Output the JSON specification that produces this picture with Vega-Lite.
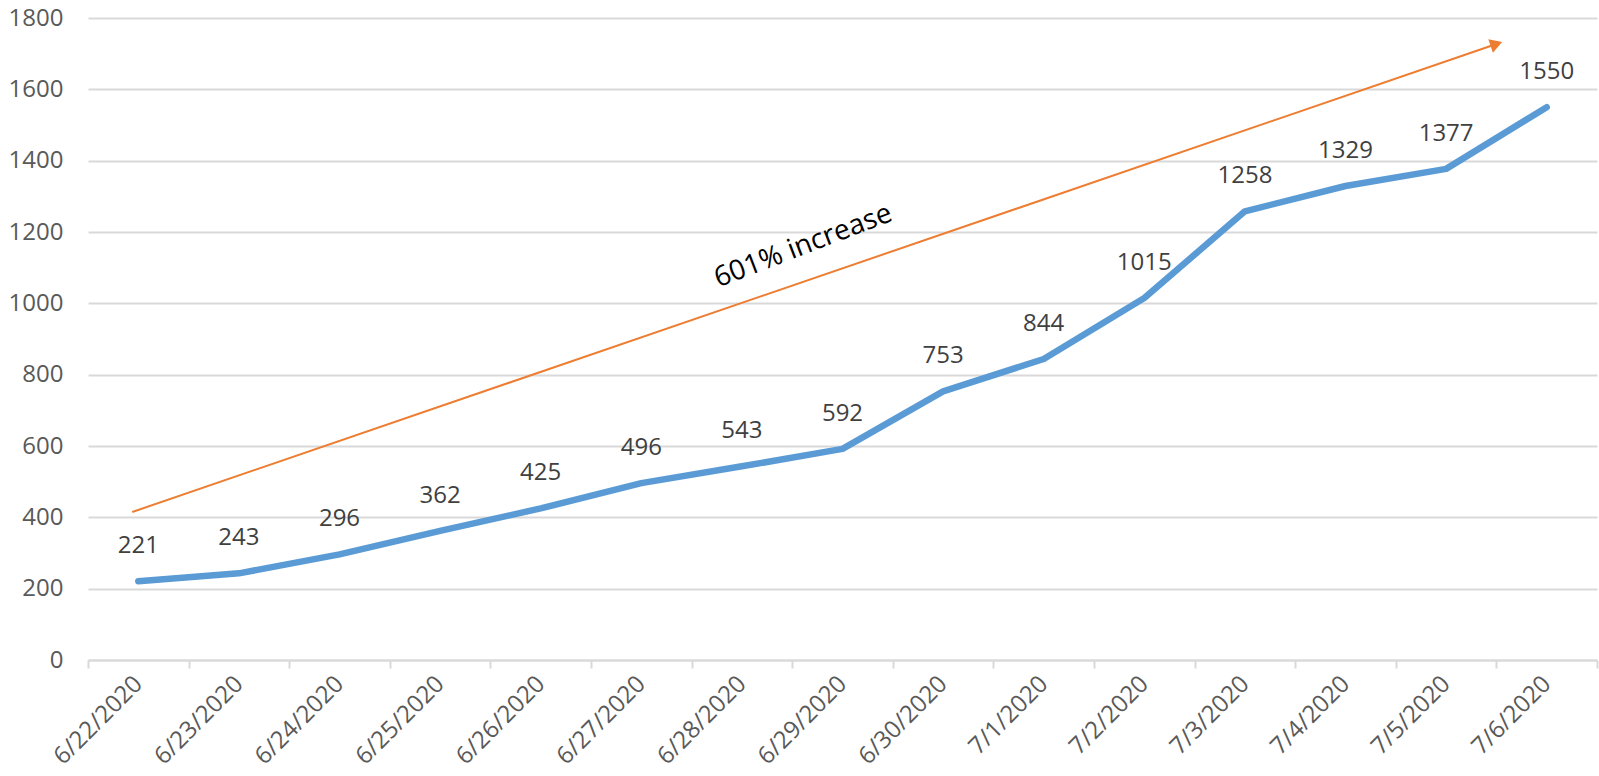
{
  "$schema": "https://vega.github.io/schema/vega-lite/v6.json",
  "width": 1509,
  "height": 642,
  "autosize": "none",
  "padding": {"left": 88, "top": 18, "right": 2, "bottom": 116},
  "background": "white",
  "config": {"view": {"stroke": null}, "font": "Open Sans"},
  "datasets": {
    "cases": [
      {"date": "6/22/2020", "cases": 221},
      {"date": "6/23/2020", "cases": 243},
      {"date": "6/24/2020", "cases": 296},
      {"date": "6/25/2020", "cases": 362},
      {"date": "6/26/2020", "cases": 425},
      {"date": "6/27/2020", "cases": 496},
      {"date": "6/28/2020", "cases": 543},
      {"date": "6/29/2020", "cases": 592},
      {"date": "6/30/2020", "cases": 753},
      {"date": "7/1/2020", "cases": 844},
      {"date": "7/2/2020", "cases": 1015},
      {"date": "7/3/2020", "cases": 1258},
      {"date": "7/4/2020", "cases": 1329},
      {"date": "7/5/2020", "cases": 1377},
      {"date": "7/6/2020", "cases": 1550}
    ],
    "arrow": [{"x0": 0.44, "y0": 415, "x1": 14.0, "y1": 1727}],
    "note": [{"x": 7.11, "y": 1160, "label": "601% increase"}]
  },
  "layer": [
    {
      "data": {"name": "cases"},
      "encoding": {
        "x": {
          "field": "date", "type": "ordinal", "sort": null,
          "scale": {"type": "band", "paddingInner": 0, "paddingOuter": 0},
          "axis": {
            "title": null, "grid": false, "tickBand": "extent",
            "domainColor": "#d9d9d9", "domainWidth": 2,
            "tickColor": "#d9d9d9", "tickWidth": 2, "tickSize": 8,
            "labelAngle": -45, "labelAlign": "right", "labelBaseline": "middle",
            "labelFontSize": 24, "labelColor": "#595959", "labelPadding": 12
          }
        },
        "y": {
          "field": "cases", "type": "quantitative",
          "scale": {"domain": [0, 1800], "nice": false},
          "axis": {
            "title": null, "values": [0, 200, 400, 600, 800, 1000, 1200, 1400, 1600, 1800],
            "format": "d",
            "domain": false, "ticks": false,
            "gridColor": "#d9d9d9", "gridWidth": 2,
            "labelFontSize": 24, "labelColor": "#595959", "labelPadding": 25
          }
        }
      },
      "layer": [
        {"mark": {"type": "line", "color": "#5b9bd5", "strokeWidth": 6.5, "strokeCap": "round", "strokeJoin": "round"}},
        {"mark": {"type": "text", "dy": -35, "fontSize": 24, "color": "#404040"}, "encoding": {"text": {"field": "cases"}}}
      ]
    },
    {
      "data": {"name": "arrow"},
      "layer": [
        {
          "mark": {"type": "rule", "color": "#ed7d31", "strokeWidth": 2},
          "encoding": {
            "x": {"field": "x0", "type": "quantitative", "scale": {"domain": [0, 15]}, "axis": null},
            "x2": {"field": "x1"},
            "y": {"field": "y0", "type": "quantitative"},
            "y2": {"field": "y1"}
          }
        },
        {
          "mark": {"type": "point", "shape": "triangle-right", "filled": true, "color": "#ed7d31", "opacity": 1, "size": 200, "angle": 341},
          "encoding": {
            "x": {"field": "x1", "type": "quantitative", "scale": {"domain": [0, 15]}, "axis": null},
            "y": {"field": "y1", "type": "quantitative"}
          }
        }
      ]
    },
    {
      "data": {"name": "note"},
      "mark": {"type": "text", "fontSize": 28, "color": "#000000", "angle": 339},
      "encoding": {
        "x": {"field": "x", "type": "quantitative", "scale": {"domain": [0, 15]}, "axis": null},
        "y": {"field": "y", "type": "quantitative"},
        "text": {"field": "label"}
      }
    }
  ],
  "resolve": {"scale": {"x": "independent"}}
}
